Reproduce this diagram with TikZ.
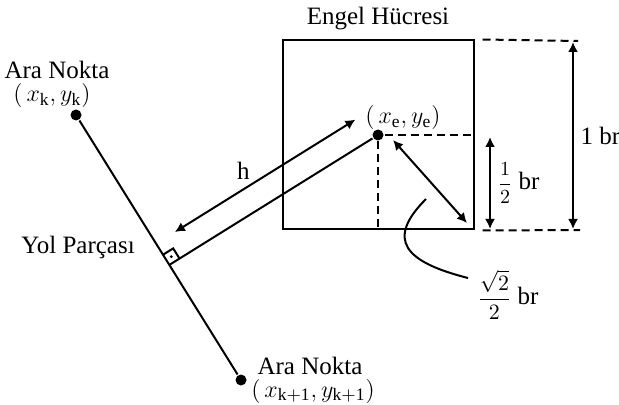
\documentclass[tikz,border=0pt]{standalone}
\usepackage{amsmath}
\usepackage{fontspec}
\setmainfont{Liberation Serif}
\usetikzlibrary{arrows.meta,positioning,calc}

\begin{document}
\begin{tikzpicture}[x=0.5pt, y=-0.5pt, >={Latex[length=5pt,width=5pt]}, line width=1pt, every node/.style={font=\fontsize{12.5}{15}\selectfont}, dash line/.style={dash pattern=on 4pt off 2.5pt}]
\useasboundingbox (0,0) rectangle (619,405);
\node[circle, fill, inner sep=0pt, minimum size=5.5pt] (k) at (76,115) {};
\node[circle, fill, inner sep=0pt, minimum size=5.5pt] (k1) at (241,380) {};
\node[circle, fill, inner sep=0pt, minimum size=5.5pt] (e) at (378,135) {};
\node[draw, inner sep=0pt, minimum width=95.5pt, minimum height=94.5pt] (cell) at (e) {};
\node[above=1pt of cell] (title) {Engel Hücresi};
\node[inner sep=0pt] (kname) at (57,70) {Ara Nokta};
\node[inner sep=0pt] (kxy) at (52,96) {$(\,x_{\mathrm{k}},y_{\mathrm{k}})$};
\node[inner sep=0pt] (k1name) at (310,366) {Ara Nokta};
\node[inner sep=0pt] (k1xy) at (313,391) {$(\,x_{\mathrm{k+1}},y_{\mathrm{k+1}})$};
\node (exy) at (403,118) {$(\,x_{\mathrm{e}},y_{\mathrm{e}})$};
\node (path) at (78,247) {Yol Parçası};

\draw (k) -- (k1);
\coordinate (f) at ($(k)!(e)!(k1)$);
\draw (e) -- (f);
\coordinate (ra) at ($(f)!6pt!(k)$);
\coordinate (rb) at ($(f)!6pt!(e)$);
\coordinate (rc) at ($(ra)+(rb)-(f)$);
\draw (ra) -- (rc) -- (rb);
\fill ($(f)!0.5!(rc)$) circle (0.8pt);

\coordinate (h1) at ($(f)!12.5pt!(k)$);
\coordinate (h2) at ($(h1)+(e)-(f)$);
\coordinate (hs) at ($(h1)!11pt!(h2)$);
\coordinate (he) at ($(h2)!5.5pt!(h1)$);
\draw[<->] (hs) -- node[pos=0.38, above=1pt]{h} (he);

\draw[dash line] (e) -- (e -| cell.east);
\draw[dash line] (e) -- (e |- cell.south);
\coordinate (d1) at (393,140);
\coordinate (d2) at (467,223);
\draw[<->] (d1) -- (d2);

\coordinate (top end) at (578,41);
\coordinate (bot end) at (580,230);
\draw[dash line] ([xshift=4pt]cell.north east) -- (top end);
\draw[dash line] ([xshift=4pt]cell.south east) -- (bot end);
\coordinate (one top) at (573,42);
\coordinate (one bot) at (573,229);
\draw[<->] (one top) -- node[right]{1 br} (one bot);
\coordinate (half top) at (490,137);
\coordinate (half bot) at (490,229);
\draw[<->] (half top) -- node[right]{{\fontsize{10}{11}\selectfont$\dfrac{1}{2}$} br} (half bot);

\node (diag) at (508,295) {{\fontsize{10.5}{11}\selectfont$\dfrac{\sqrt{2}}{2}$} br};
\coordinate (c1) at (426,199);
\coordinate (c2) at (468,278);
\draw (c1) .. controls (385,240) and (405,262) .. (c2);
\end{tikzpicture}
\end{document}
